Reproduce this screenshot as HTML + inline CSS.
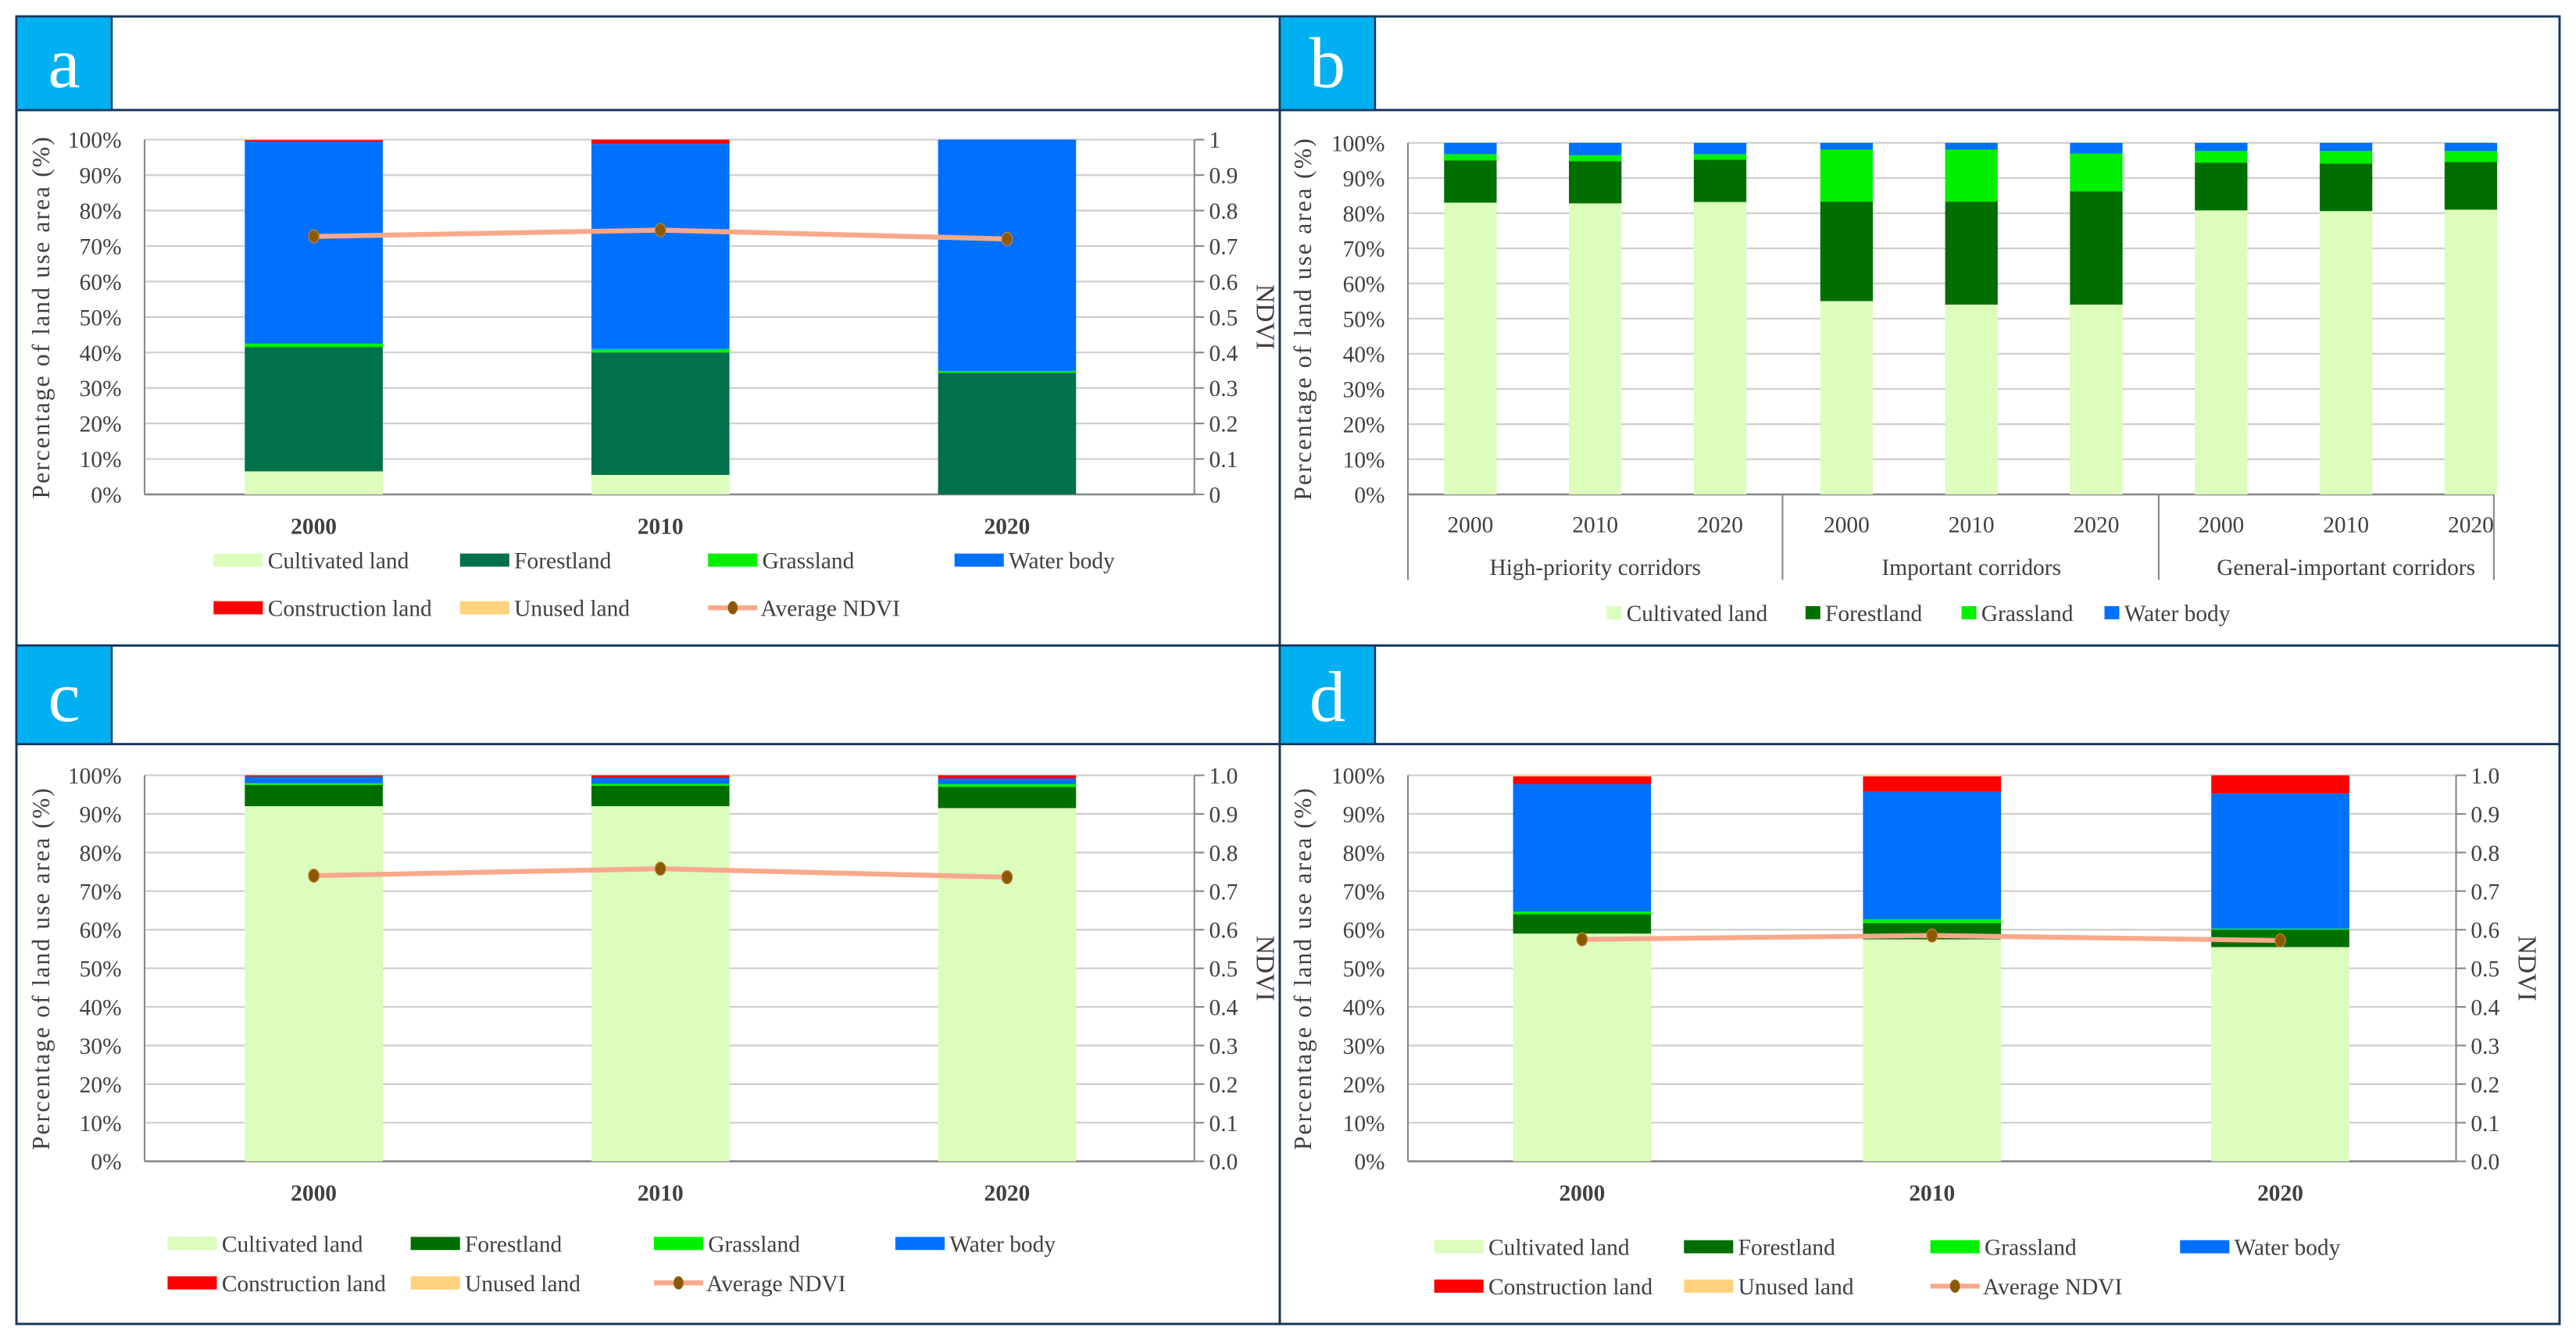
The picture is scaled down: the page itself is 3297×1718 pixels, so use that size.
<!DOCTYPE html>
<html><head><meta charset="utf-8"><style>
html,body{margin:0;padding:0;background:#fff}
svg{display:block;font-family:"Liberation Serif",serif}
</style></head><body>
<svg id="fig" width="3297" height="1718" viewBox="0 0 1568 817" preserveAspectRatio="none" xmlns="http://www.w3.org/2000/svg"></svg>
<script>
// ---- data ----
const years = ["2000","2010","2020"];
// panel a
const aCult=[6.5,5.5,0], aForest=[35,34.5,34.3], aGrass=[1,1,0.5], aWater=[57,57.8,65.2], aConst=[0.4,1.2,0], aUnused=[0.1,0,0];
const aNdvi=[0.727,0.745,0.72];
// panel b
const bGroups=["High-priority corridors","Important corridors","General-important corridors"];
const bCult=[83,82.8,83.2,55,54,54,80.8,80.6,81];
const bForest=[12,12,12,28.3,29.3,32.2,13.6,13.5,13.6];
const bGrass=[1.8,1.7,1.6,14.8,14.8,10.8,3.3,3.6,3.1];
const bWater=[3.2,3.5,3.2,1.9,1.9,3.0,2.3,2.3,2.3];
// panel c
const cCult=[92,92,91.5], cForest=[5.5,5.3,5.5], cGrass=[0.5,0.5,0.7], cWater=[1.7,1.6,1.5], cConst=[0.3,0.6,0.8], cUnused=[0,0,0];
const cNdvi=[0.74,0.758,0.736];
// panel d
const dCult=[59,57.5,55.5], dForest=[5,4.2,4.5], dGrass=[0.7,1,0.3], dWater=[33,33,35], dConst=[2,4,4.7], dUnused=[0.3,0.3,0];
const dNdvi=[0.575,0.585,0.572];

const C={cult:"#dcfdbb",forest:"#006f00",forestA:"#00714a",grass:"#00f000",water:"#0070ff",cons:"#ff0000",unused:"#ffd27f",line:"#f9a98b",mk:"#8b5a00"};
const NS="http://www.w3.org/2000/svg";
const svg=document.getElementById('fig');
function el(tag,attrs,parent,txt){const e=document.createElementNS(NS,tag);for(const k in attrs)e.setAttribute(k,attrs[k]);if(txt!==undefined)e.textContent=txt;(parent||svg).appendChild(e);return e;}

// panel frames
function frame(x,y,w,h,hh,letter,name){
  const g=el('g',{});
  
  
  el('rect',{x:x,y:y,width:w,height:h,fill:'#fff',stroke:'#17365d','stroke-width':1.4},g);
  el('line',{x1:x,y1:y+hh,x2:x+w,y2:y+hh,stroke:'#17365d','stroke-width':1.4},g);
  const b=el('rect',{x:x,y:y,width:58,height:hh,fill:'#00b0f0',stroke:'#17365d','stroke-width':1.2},g);
  
  const t=el('text',{x:x+29,y:y+hh-14,'text-anchor':'middle','font-size':44,fill:'#fff'},g,letter);
  
  return g;
}
frame(10,10,769,383,57,'a','panel-a');
frame(779,10,779,383,57,'b','panel-b');
frame(10,393,769,413,60,'c','panel-c');
frame(779,393,779,413,60,'d','panel-d');

function axes(g,x0,x1,yTop,yBot,rightAxis,rightLabels,leftX){
  const ys=v=>yBot-(yBot-yTop)*v/100;
  for(let i=0;i<=10;i++){
    const y=ys(i*10);
    const l=el('line',{x1:x0,y1:y,x2:x1,y2:y,stroke:i==0?'#888':'#d0d0d0','stroke-width':i==0?1.2:1.1},g);
    
    const t=el('text',{x:x0-14,y:y+5,'text-anchor':'end','font-size':14,fill:'#404040'},g,(i*10)+'%');
    
    if(rightAxis){
      el('line',{x1:x1,y1:y,x2:x1+6,y2:y,stroke:'#888'},g);
      const r=el('text',{x:x1+9,y:y+5,'font-size':14,fill:'#404040'},g,rightLabels[i]);
      
    }
  }
  el('line',{x1:x0,y1:yTop,x2:x0,y2:yBot,stroke:'#888'},g);
  if(rightAxis)el('line',{x1:x1,y1:yTop,x2:x1,y2:yBot,stroke:'#888'},g);
  const cy=(yTop+yBot)/2;
  const yt=el('text',{x:0,y:0,'text-anchor':'middle','font-size':15,fill:'#404040','letter-spacing':'1',transform:`translate(${leftX},${cy}) rotate(-90)`},g,'Percentage of land use area (%)');
  
  if(rightAxis){
    const nt=el('text',{x:0,y:0,'text-anchor':'middle','font-size':16,fill:'#404040',transform:`translate(${x1+38},${cy}) rotate(90)`},g,'NDVI');
    
  }
  return ys;
}

function stacks(g,centers,w,ys,series){
  centers.forEach((cx,i)=>{
    let acc=0;
    series.forEach(s=>{
      const v=s.vals[i];if(v<=0)return;
      const r=el('rect',{x:cx-w/2,y:ys(acc+v),width:w,height:ys(acc)-ys(acc+v),fill:s.color},g);
      
      
      acc+=v;
    });
  });
}
function ndviLine(g,centers,ys,vals){
  const pts=centers.map((c,i)=>c+','+ys(vals[i]*100)).join(' ');
  const p=el('polyline',{points:pts,fill:'none',stroke:C.line,'stroke-width':3},g);
  
  centers.forEach((c,i)=>{
    const m=el('ellipse',{cx:c,cy:ys(vals[i]*100),rx:3.2,ry:4,fill:C.mk,stroke:'#c08040','stroke-width':0.6},g);
    
  });
}
function legend(g,items,y0,dy){
  items.forEach(it=>{
    const y=y0+it.row*dy;
    const lg=el('g',{},g);
    
    
    if(it.line){
      el('line',{x1:it.x,y1:y,x2:it.x+30,y2:y,stroke:C.line,'stroke-width':3},lg);
      el('ellipse',{cx:it.x+15,cy:y,rx:3,ry:4,fill:C.mk},lg);
    } else el('rect',{x:it.x,y:y-4,width:it.sw||30,height:8,fill:it.color},lg);
    el('text',{x:it.x+(it.line?32:(it.sw||30)+3),y:y+5,'font-size':14,fill:'#404040'},lg,it.label);
  });
}
function yearLabels(g,centers,y,bold){
  centers.forEach((c,i)=>{
    const t=el('text',{x:c,y:y,'text-anchor':'middle','font-size':14,'font-weight':bold?'bold':'normal',fill:'#404040'},g,years[i%3]);
    
  });
}
const r1=["0","0.1","0.2","0.3","0.4","0.5","0.6","0.7","0.8","0.9","1"];
const r2=["0.0","0.1","0.2","0.3","0.4","0.5","0.6","0.7","0.8","0.9","1.0"];
const legItems=(xs,y)=>[
 {x:xs[0],row:0,color:C.cult,label:'Cultivated land'},
 {x:xs[1],row:0,color:null,label:'Forestland'},
 {x:xs[2],row:0,color:C.grass,label:'Grassland'},
 {x:xs[3],row:0,color:C.water,label:'Water body'},
 {x:xs[0],row:1,color:C.cons,label:'Construction land'},
 {x:xs[1],row:1,color:C.unused,label:'Unused land'},
 {x:xs[2],row:1,line:true,label:'Average NDVI'}];

// panel a
{const g=el('g',{});
 const ys=axes(g,88,727,85,301,true,r1,30);
 const cs=[191,402,613];
 stacks(g,cs,84,ys,[{name:'cultivated',vals:aCult,color:C.cult},{name:'forest',vals:aForest,color:C.forestA},{name:'grass',vals:aGrass,color:C.grass},{name:'water',vals:aWater,color:C.water},{name:'construction',vals:aConst,color:C.cons},{name:'unused',vals:aUnused,color:C.unused}]);
 ndviLine(g,cs,ys,aNdvi);
 yearLabels(g,cs,325,true);
 const it=legItems([130,280,431,581]);it[1].color=C.forestA;legend(g,it,341,29);}
// panel b
{const g=el('g',{});
 const ys=axes(g,857,1518,87,301,false,null,798);
 el('line',{x1:1518,y1:87,x2:1518,y2:301,stroke:'#888'},g);
 const cs=[895,971,1047,1124,1200,1276,1352,1428,1504];
 stacks(g,cs,32,ys,[{name:'cultivated',vals:bCult,color:C.cult},{name:'forest',vals:bForest,color:C.forest},{name:'grass',vals:bGrass,color:C.grass},{name:'water',vals:bWater,color:C.water}]);
 yearLabels(g,cs,324,false);
 [857,1085,1314,1518].forEach(x=>el('line',{x1:x,y1:301,x2:x,y2:353,stroke:'#888'},g));
 bGroups.forEach((n,i)=>{const t=el('text',{x:[971,1200,1428][i],y:350,'text-anchor':'middle','font-size':14,fill:'#404040'},g,n);});
 legend(g,[{x:978,row:0,color:C.cult,label:'Cultivated land',sw:9},{x:1099,row:0,color:C.forest,label:'Forestland',sw:9},{x:1194,row:0,color:C.grass,label:'Grassland',sw:9},{x:1281,row:0,color:C.water,label:'Water body',sw:9}],373,0);}
// panel c
{const g=el('g',{});
 const ys=axes(g,88,727,472,707,true,r2,30);
 const cs=[191,402,613];
 stacks(g,cs,84,ys,[{name:'cultivated',vals:cCult,color:C.cult},{name:'forest',vals:cForest,color:C.forest},{name:'grass',vals:cGrass,color:C.grass},{name:'water',vals:cWater,color:C.water},{name:'construction',vals:cConst,color:C.cons},{name:'unused',vals:cUnused,color:C.unused}]);
 ndviLine(g,cs,ys,cNdvi);
 yearLabels(g,cs,731,true);
 const it=legItems([102,250,398,545]);it[1].color=C.forest;legend(g,it,757,24);}
// panel d
{const g=el('g',{});
 const ys=axes(g,857,1495,472,707,true,r2,798);
 const cs=[963,1176,1388];
 stacks(g,cs,84,ys,[{name:'cultivated',vals:dCult,color:C.cult},{name:'forest',vals:dForest,color:C.forest},{name:'grass',vals:dGrass,color:C.grass},{name:'water',vals:dWater,color:C.water},{name:'construction',vals:dConst,color:C.cons},{name:'unused',vals:dUnused,color:C.unused}]);
 ndviLine(g,cs,ys,dNdvi);
 yearLabels(g,cs,731,true);
 const it=legItems([873,1025,1175,1327]);it[1].color=C.forest;legend(g,it,759,24);}
</script>
</body></html>
